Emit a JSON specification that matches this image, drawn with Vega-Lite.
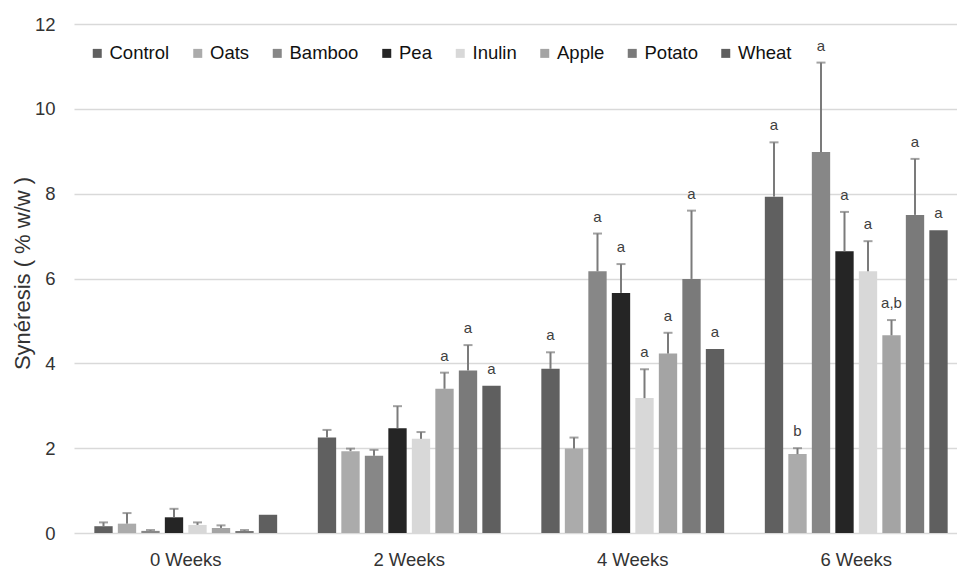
{
  "$schema": "https://vega.github.io/schema/vega-lite/v6.json",
  "autosize": "none",
  "width": 883,
  "height": 509,
  "padding": {"left": 74, "top": 24, "right": 0, "bottom": 36},
  "background": "white",
  "config": {
    "font": "Liberation Sans",
    "view": {"stroke": null}
  },
  "data": {
    "values": [
      {"week": "0 Weeks", "treatment": "Control", "value": 0.16, "upper": 0.25, "label": ""},
      {"week": "0 Weeks", "treatment": "Oats", "value": 0.22, "upper": 0.47, "label": ""},
      {"week": "0 Weeks", "treatment": "Bamboo", "value": 0.05, "upper": 0.07, "label": ""},
      {"week": "0 Weeks", "treatment": "Pea", "value": 0.37, "upper": 0.57, "label": ""},
      {"week": "0 Weeks", "treatment": "Inulin", "value": 0.19, "upper": 0.25, "label": ""},
      {"week": "0 Weeks", "treatment": "Apple", "value": 0.12, "upper": 0.18, "label": ""},
      {"week": "0 Weeks", "treatment": "Potato", "value": 0.05, "upper": 0.07, "label": ""},
      {"week": "0 Weeks", "treatment": "Wheat", "value": 0.43, "upper": 0.43, "label": ""},
      {"week": "2 Weeks", "treatment": "Control", "value": 2.25, "upper": 2.43, "label": ""},
      {"week": "2 Weeks", "treatment": "Oats", "value": 1.93, "upper": 1.99, "label": ""},
      {"week": "2 Weeks", "treatment": "Bamboo", "value": 1.82, "upper": 1.96, "label": ""},
      {"week": "2 Weeks", "treatment": "Pea", "value": 2.47, "upper": 2.99, "label": ""},
      {"week": "2 Weeks", "treatment": "Inulin", "value": 2.22, "upper": 2.38, "label": ""},
      {"week": "2 Weeks", "treatment": "Apple", "value": 3.40, "upper": 3.78, "label": "a"},
      {"week": "2 Weeks", "treatment": "Potato", "value": 3.83, "upper": 4.43, "label": "a"},
      {"week": "2 Weeks", "treatment": "Wheat", "value": 3.47, "upper": 3.47, "label": "a"},
      {"week": "4 Weeks", "treatment": "Control", "value": 3.87, "upper": 4.26, "label": "a"},
      {"week": "4 Weeks", "treatment": "Oats", "value": 1.99, "upper": 2.25, "label": ""},
      {"week": "4 Weeks", "treatment": "Bamboo", "value": 6.17, "upper": 7.06, "label": "a"},
      {"week": "4 Weeks", "treatment": "Pea", "value": 5.66, "upper": 6.34, "label": "a"},
      {"week": "4 Weeks", "treatment": "Inulin", "value": 3.18, "upper": 3.86, "label": "a"},
      {"week": "4 Weeks", "treatment": "Apple", "value": 4.23, "upper": 4.72, "label": "a"},
      {"week": "4 Weeks", "treatment": "Potato", "value": 5.99, "upper": 7.60, "label": "a"},
      {"week": "4 Weeks", "treatment": "Wheat", "value": 4.34, "upper": 4.34, "label": "a"},
      {"week": "6 Weeks", "treatment": "Control", "value": 7.93, "upper": 9.21, "label": "a"},
      {"week": "6 Weeks", "treatment": "Oats", "value": 1.86, "upper": 2.00, "label": "b"},
      {"week": "6 Weeks", "treatment": "Bamboo", "value": 8.98, "upper": 11.09, "label": "a"},
      {"week": "6 Weeks", "treatment": "Pea", "value": 6.64, "upper": 7.57, "label": "a"},
      {"week": "6 Weeks", "treatment": "Inulin", "value": 6.17, "upper": 6.88, "label": "a"},
      {"week": "6 Weeks", "treatment": "Apple", "value": 4.66, "upper": 5.02, "label": "a,b"},
      {"week": "6 Weeks", "treatment": "Potato", "value": 7.50, "upper": 8.82, "label": "a"},
      {"week": "6 Weeks", "treatment": "Wheat", "value": 7.14, "upper": 7.14, "label": "a"}
    ]
  },
  "encoding": {
    "x": {
      "field": "week",
      "type": "nominal",
      "sort": ["0 Weeks", "2 Weeks", "4 Weeks", "6 Weeks"],
      "scale": {"range": [0, 894], "paddingInner": 0, "paddingOuter": 0},
      "axis": {
        "title": null,
        "labelAngle": 0,
        "labelFontSize": 18.5,
        "labelColor": "#333333",
        "labelPadding": 17,
        "domain": false,
        "ticks": false,
        "grid": false
      }
    },
    "xOffset": {
      "field": "treatment",
      "type": "nominal",
      "sort": ["Control", "Oats", "Bamboo", "Pea", "Inulin", "Apple", "Potato", "Wheat"],
      "scale": {"paddingInner": 0.22, "paddingOuter": 0.865}
    }
  },
  "layer": [
    {
      "mark": {"type": "bar"},
      "encoding": {
        "y": {
          "field": "value",
          "type": "quantitative",
          "scale": {"domain": [0, 12], "nice": false},
          "axis": {
            "values": [0, 2, 4, 6, 8, 10, 12],
            "title": "Synéresis ( % w/w )",
            "titleFontSize": 22,
            "titleFontWeight": "normal",
            "titleColor": "#333333",
            "titleX": -52,
            "titleY": 249,
            "titleAngle": -90,
            "titleAlign": "center",
            "titleBaseline": "middle",
            "labelFontSize": 18.5,
            "labelColor": "#333333",
            "labelPadding": 19,
            "domain": false,
            "ticks": false,
            "grid": true,
            "gridColor": "#d9d9d9",
            "gridWidth": 1.5
          }
        },
        "color": {
          "field": "treatment",
          "type": "nominal",
          "scale": {
            "domain": ["Control", "Oats", "Bamboo", "Pea", "Inulin", "Apple", "Potato", "Wheat"],
            "range": ["#606060", "#ababab", "#878787", "#252525", "#d8d8d8", "#a4a4a4", "#7a7a7a", "#5f5f5f"]
          },
          "legend": {
            "title": null,
            "orient": "none",
            "direction": "horizontal",
            "legendX": 14,
            "legendY": 20,
            "symbolType": "square",
            "symbolSize": 81,
            "symbolStrokeWidth": 0,
            "labelFontSize": 18.5,
            "labelColor": "#111111",
            "labelOffset": 3,
            "columnPadding": 18.5
          }
        }
      }
    },
    {
      "transform": [{"filter": "datum.upper > datum.value"}],
      "mark": {"type": "rule", "color": "#7b7b7b", "strokeWidth": 2},
      "encoding": {
        "y": {"field": "value", "type": "quantitative"},
        "y2": {"field": "upper"}
      }
    },
    {
      "transform": [{"filter": "datum.upper > datum.value"}],
      "mark": {"type": "tick", "color": "#7b7b7b", "size": 9, "thickness": 2, "orient": "horizontal"},
      "encoding": {
        "y": {"field": "upper", "type": "quantitative"}
      }
    },
    {
      "mark": {"type": "text", "fontSize": 15, "color": "#404040", "baseline": "bottom", "dy": -9},
      "encoding": {
        "y": {"field": "upper", "type": "quantitative"},
        "text": {"field": "label"}
      }
    }
  ]
}
